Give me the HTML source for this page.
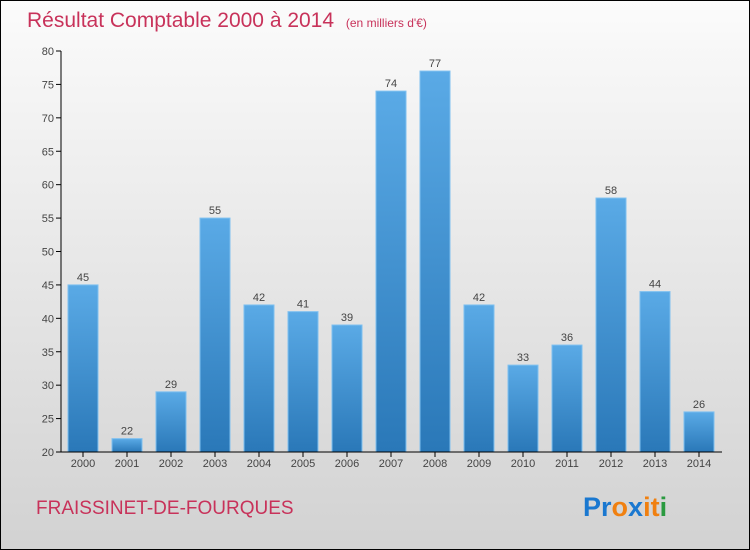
<!DOCTYPE html>
<html><head><meta charset="utf-8"><style>
body{margin:0;}
#c{width:748px;height:548px;border:1px solid #000;background:linear-gradient(#fbfbfb,#d2d2d2);position:relative;font-family:"Liberation Sans",sans-serif;}
svg{position:absolute;left:0;top:0}
</style></head><body>
<div id="c">
<svg id="s" width="748" height="548">
<defs><linearGradient id="g" x1="0" y1="0" x2="0" y2="1"><stop offset="0" stop-color="#5aaae6"/><stop offset="1" stop-color="#2a78b8"/></linearGradient></defs>
<text x="26" y="26" font-size="21" fill="#c8325a">Résultat Comptable 2000 à 2014 <tspan font-size="12" dx="6">(en milliers d'€)</tspan></text>
<text x="35" y="513" font-size="19" fill="#c8325a">FRAISSINET-DE-FOURQUES</text>
<text x="582" y="515" font-size="27" font-weight="bold"><tspan fill="#1a78d0">Pr</tspan><tspan fill="#f08010">o</tspan><tspan fill="#1a78d0">x</tspan><tspan fill="#f08010">i</tspan><tspan fill="#f08010">t</tspan><tspan fill="#2a9a40">i</tspan></text>
<g id="plot"></g>
</svg></div>
<script>
const years=["2000","2001","2002","2003","2004","2005","2006","2007","2008","2009","2010","2011","2012","2013","2014"];
const values=[45,22,29,55,42,41,39,74,77,42,33,36,58,44,26];
const ticks=[20,25,30,35,40,45,50,55,60,65,70,75,80];
const NS="http://www.w3.org/2000/svg",p=document.getElementById('plot');
const y=v=>451-(v-20)*401/60, x=i=>82+i*44;
function mk(t,a,txt){const e=document.createElementNS(NS,t);for(const k in a)e.setAttribute(k,a[k]);if(txt!==undefined)e.textContent=txt;p.appendChild(e);return e;}
ticks.forEach(t=>{
 const l=mk('line',{x1:55,x2:60,y1:y(t),y2:y(t),stroke:'#000'});
 
 const tx=mk('text',{x:53,y:y(t)+4,'text-anchor':'end','font-size':11,fill:'#444'},t);
 
});
values.forEach((v,i)=>{
 const r=mk('rect',{x:x(i)-15,y:y(v),width:30,height:451-y(v),fill:'url(#g)',stroke:'#7ec0f0','stroke-width':1});
 
 const t=mk('text',{x:x(i),y:y(v)-4,'text-anchor':'middle','font-size':11,fill:'#444'},v);
 
 const k=mk('line',{x1:x(i),x2:x(i),y1:451,y2:456,stroke:'#000'});
 
 const xl=mk('text',{x:x(i),y:466,'text-anchor':'middle','font-size':11,fill:'#444'},years[i]);
 
});
const ya=mk('line',{x1:60,x2:60,y1:50,y2:451,stroke:'#000'});

const xa=mk('line',{x1:60,x2:721,y1:451,y2:451,stroke:'#000'});

</script>
</body></html>
